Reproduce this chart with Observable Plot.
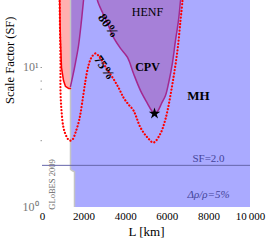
<!DOCTYPE html>
<html><head><meta charset="utf-8">
<script src="https://cdn.jsdelivr.net/npm/d3@7"></script>
<script src="https://cdn.jsdelivr.net/npm/@observablehq/plot@0.6"></script>
<style>body{margin:0;background:#fff}</style>
</head><body><div id="chart"></div>
<script>
// MH sensitivity region (blue)
const mhL  = [1346, 10000, 10000, 1538, 1538, 1440, 1346];
const mhSF = [35, 35, 1, 1, 1.80, 1.83, 1.87];
// GLoBES 2009 boundary (grey)
const gbL  = [1346, 1346, 1440, 1538, 1538];
const gbSF = [35, 1.87, 1.83, 1.80, 1];
// pink region with solid red edge
const pinkL  = [817, 841, 865, 913, 1010, 1106, 1250, 1346, 1346];
const pinkSF = [35, 21.7, 15.6, 10.0, 8.06, 7.33, 7.09, 7.09, 35];
const redL  = [817, 841, 865, 913, 1010, 1106, 1250, 1346];
const redSF = [35, 21.7, 15.6, 10.0, 8.06, 7.33, 7.09, 7.09];
// 80% region: narrow strip
const stripL  = [1346, 2019, 1971, 1875, 1731, 1587, 1442, 1346];
const stripSF = [35, 35, 30.1, 21.7, 14.3, 10.85, 8.49, 7.33];
// 80% region: HENF / CPV lobe
const lobeL  = [2600, 2644, 2885, 3125, 3413, 3750, 4087, 4375, 4712, 5048, 5240, 5385, 5529, 5721, 5913, 6058, 6250, 6394, 6538, 6635, 6680];
const lobeSF = [35, 30.1, 24.7, 20.6, 16.4, 13.7, 11.8, 9.06, 6.84, 5.53, 4.93, 4.69, 4.85, 5.53, 6.31, 7.69, 10.85, 15.6, 21.7, 30.1, 35];
// 75% contour (dotted red)
const c75L  = [817, 841, 865, 865, 913, 1010, 1154, 1298, 1442, 1587, 1779, 1923, 2067, 2212, 2356, 2548, 2788, 3077, 3365, 3654, 3894, 4135, 4375, 4712, 5048, 5337, 5673, 5865, 6010, 6250, 6490, 6635, 6731, 6760];
const c75SF = [35, 18.4, 10.68, 6.84, 4.93, 3.72, 3.21, 3.01, 3.06, 3.43, 4.32, 5.81, 8.06, 10.34, 11.8, 12.6, 11.6, 9.83, 8.49, 7.19, 6.10, 5.44, 4.93, 3.72, 3.16, 2.91, 3.38, 4.05, 4.93, 7.69, 13.3, 21.7, 30.1, 35];
// best point
const starL = [5385];
const starSF = [4.69];
// reference scale factor line
const sfLine = [2];
// axis ticks
const xTicks = [0, 2000, 4000, 6000, 8000, 10000];
const xTickLabels = ["0", "2000", "4000", "6000", "8000", "10\u2009000"];
const yTicks = [1, 10];
const yTickLabels = ["10\u2070", "10\u00b9"];
const yMinor = [3, 7, 8, 10];
// annotations
const annText = ["HENF", "CPV", "MH", "80%", "75%", "SF=2.0", "\u0394\u03c1/\u03c1=5%", "GLoBES 2009"];
const annL  = [5048, 5048, 7500, 3173, 2981, 7981, 7981, 481];
const annSF = [24.7, 10.0, 6.31, 19.9, 10.0, 2.24, 1.24, 1.46];

const idx = a => d3.range(a.length);
const poly = (L, S, opts) => Plot.line(idx(L), {x: i => L[i], y: i => S[i], clip: true, ...opts});

const ann = (k, opts) => Plot.text([k], {x: i => annL[i], y: i => annSF[i], text: i => annText[i], ...opts});

const chart = Plot.plot({
  width: 268, height: 244,
  marginLeft: 42, marginRight: 18, marginTop: 0, marginBottom: 37,
  style: {fontFamily: "'Liberation Serif', serif", fontSize: "11px", background: "white", color: "black"},
  x: {domain: [0, 10000]},
  y: {type: "log", domain: [1, 30.1]},
  marks: [
    poly(mhL, mhSF, {fill: "#aaaaff", stroke: "none"}),
    poly(pinkL, pinkSF, {fill: "#ffb0b0", stroke: "none"}),
    poly(stripL, stripSF, {fill: "#a680d8", stroke: "none", curve: "catmull-rom"}),
    poly(lobeL, lobeSF, {fill: "#a680d8", stroke: "none", curve: "catmull-rom"}),
    poly(gbL, gbSF, {stroke: "#c4c4c4", strokeWidth: 1.5}),
    Plot.ruleY(sfLine, {stroke: "#6666aa", strokeWidth: 1}),
    poly(stripL.slice(1), stripSF.slice(1), {stroke: "#a3288f", strokeWidth: 1.5, curve: "catmull-rom"}),
    poly(lobeL, lobeSF, {stroke: "#a3288f", strokeWidth: 1.5, curve: "catmull-rom"}),
    poly(redL, redSF, {stroke: "#ff0000", strokeWidth: 1.5}),
    poly(c75L, c75SF, {stroke: "#ff0000", strokeWidth: 2.2, strokeDasharray: "0.1 3.2", strokeLinecap: "round", curve: "catmull-rom"}),
    Plot.dot(idx(starL), {x: i => starL[i], y: i => starSF[i], symbol: "star", fill: "black", r: 3.6}),
    ann(0, {fontSize: 12}),
    ann(1, {fontSize: 12, fontWeight: "bold"}),
    ann(2, {fontSize: 13, fontWeight: "bold"}),
    ann(3, {fontSize: 13, fontWeight: "bold", rotate: 55}),
    ann(4, {fontSize: 13, fontWeight: "bold", rotate: 55}),
    ann(5, {fontSize: 11, fill: "#45459a"}),
    ann(6, {fontSize: 11, fill: "#45459a", fontStyle: "italic"}),
    ann(7, {fontSize: 8.5, fill: "#666", rotate: -90}),
    Plot.axisX({ticks: xTicks, tickFormat: d => xTickLabels[xTicks.indexOf(d)], tickSize: 0, tickPadding: 5, fontSize: 11, label: null}),
    Plot.axisY({ticks: yMinor, tickFormat: () => "", tickSize: 1.5, stroke: "#999", label: null}),
    Plot.axisY({ticks: yTicks, tickFormat: d => yTickLabels[yTicks.indexOf(d)], tickSize: 0, tickPadding: 4, fontSize: 12, fill: "#777", label: null}),
    Plot.text(["Scale Factor (SF)"], {frameAnchor: "left", rotate: -90, dx: -33, fontSize: 12.5}),
    Plot.text(["L [km]"], {frameAnchor: "bottom", dy: 28, fontSize: 13})
  ]
});
document.getElementById("chart").appendChild(chart);
</script></body></html>
